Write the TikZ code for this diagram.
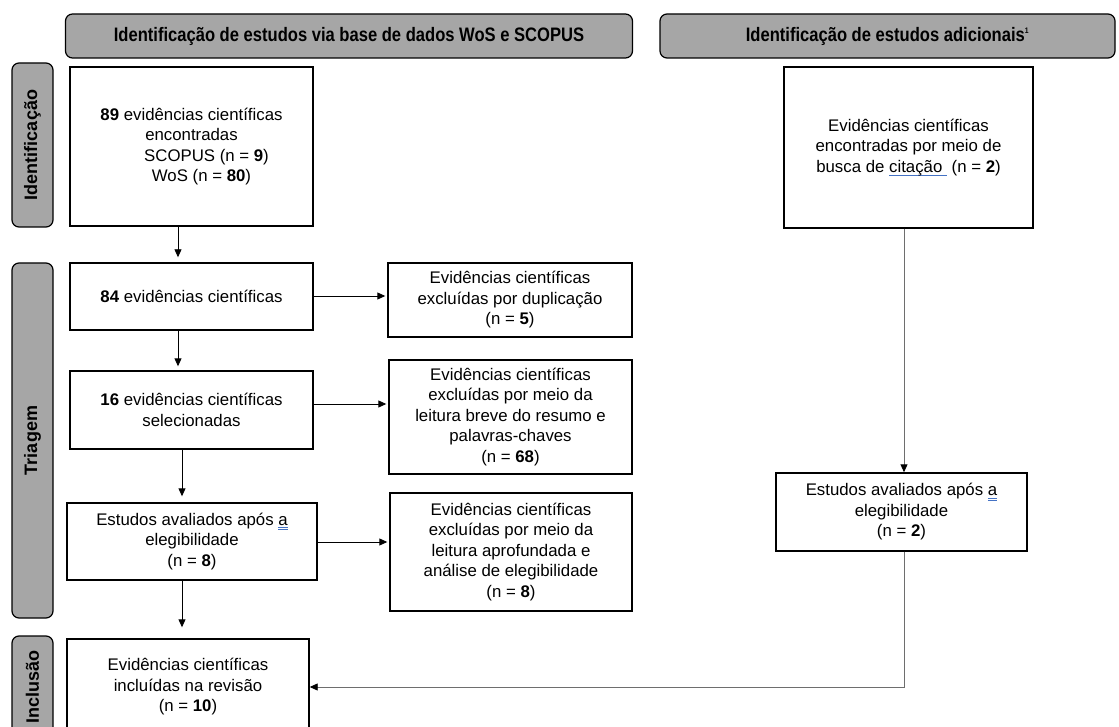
\documentclass[tikz,border=0pt]{standalone}
\usepackage{fontspec}
\setmainfont{Liberation Sans}
\newfontfamily\hdrfont[FakeStretch=0.85]{Liberation Sans}
\usetikzlibrary{arrows.meta,calc}

\definecolor{phasegray}{RGB}{166,166,166}
\definecolor{markblue}{RGB}{68,114,196}
\definecolor{linkgray}{RGB}{110,110,110}

% proofing underline (single) and double underline
\newcommand\spellline[1]{\setbox0\hbox{#1}\rlap{\color{markblue}\rule[-3pt]{\wd0}{0.8pt}}#1}
\newcommand\spelldouble[1]{\setbox0\hbox{#1}\rlap{\color{markblue}\rule[-2.6pt]{\wd0}{0.6pt}}\rlap{\color{markblue}\rule[-4.4pt]{\wd0}{0.6pt}}#1}

\tikzset{
  box/.style={draw=black, line width=1.4pt, fill=white, align=center,
    inner sep=2pt, font=\fontsize{16.8}{20.5}\selectfont},
  phase/.style={draw=black, line width=1.2pt, fill=phasegray, rounded corners=7pt},
  phaselabel/.style={rotate=90, font=\fontsize{18}{20}\selectfont\bfseries},
  header/.style={phase, font=\hdrfont\fontsize{19.5}{22}\selectfont\bfseries},
  arr/.style={-{Triangle[length=8pt,width=7pt,color=black]}, line width=0.9pt},
  grayarr/.style={arr, draw=linkgray},
}

\begin{document}
\begin{tikzpicture}[x=1pt,y=-1pt]
\useasboundingbox (0,0) rectangle (1119,727);

% column headers
\node[header, minimum width=567, minimum height=44] (hdrA) at (349,36)
  {Identificação de estudos via base de dados WoS e SCOPUS};
\node[header, minimum width=455, minimum height=44] (hdrB) at (887.5,36)
  {Identificação de estudos adicionais\textsuperscript{\fontsize{8}{8}\selectfont 1}};

% phase bars
\node[phase, minimum width=41, minimum height=164] (sideI) at (32.5,145) {};
\node[phaselabel] (labI) at (sideI) {Identificação};
\node[phase, minimum width=41, minimum height=355] (sideT) at (32.5,440.5) {};
\node[phaselabel] (labT) at (sideT) {Triagem};
\node[phase, minimum width=41, minimum height=102] (sideN) at (32.5,687) {};
\node[phaselabel] (labN) at (sideN) {Inclusão};

% main column
\node[box, minimum width=243, minimum height=159] (b1) at (191.5,146.5)
  {{\bfseries 89} evidências científicas\\ encontradas\\
   \hspace*{30pt}SCOPUS (n = {\bfseries 9})\\ \hspace*{20pt}WoS (n = {\bfseries 80})};
\node[box, minimum width=243, minimum height=67] (b2) at (191.5,296.5)
  {{\bfseries 84} evidências científicas};
\node[box, minimum width=243, minimum height=78] (b3) at (191.5,410)
  {{\bfseries 16} evidências científicas\\ selecionadas};
\node[box, minimum width=250, minimum height=77] (b4) at (192,541.5)
  {Estudos avaliados após \spelldouble{a}\\ elegibilidade\\ (n = {\bfseries 8})};
\node[box, minimum width=242, minimum height=96] (b5) at (188,687)
  {Evidências científicas\\ incluídas na revisão\\ (n = {\bfseries 10})};

% exclusion column
\node[box, minimum width=244, minimum height=74] (e1) at (510,300)
  {Evidências científicas\\ excluídas por duplicação\\ (n = {\bfseries 5})};
\node[box, minimum width=243, minimum height=114] (e2) at (510.5,417)
  {Evidências científicas\\ excluídas por meio da\\ leitura breve do resumo e\\ palavras-chaves\\ (n = {\bfseries 68})};
\node[box, minimum width=242, minimum height=118] (e3) at (511,552)
  {Evidências científicas\\ excluídas por meio da\\ leitura aprofundada e\\ análise de elegibilidade\\ (n = {\bfseries 8})};

% additional studies column
\node[box, minimum width=249, minimum height=161] (r1) at (908.5,147.5)
  {Evidências científicas\\ encontradas por meio de\\ busca de \spellline{citação\ }\ (n = {\bfseries 2})};
\node[box, minimum width=251, minimum height=78] (r2) at (901.5,512)
  {Estudos avaliados após \spelldouble{a}\\ elegibilidade\\ (n = {\bfseries 2})};

% connectors
\coordinate (ax1) at (178,0);
\coordinate (ax2) at (182,0);
\coordinate (rx) at (904,0);
\coordinate (ry) at (0,687);

\draw[arr, shorten >=5pt] (b1.south -| ax1) -- (b2.north -| ax1);
\draw[arr, shorten >=4pt] (b2.south -| ax1) -- (b3.north -| ax1);
\draw[arr, shorten >=6pt] (b3.south -| ax2) -- (b4.north -| ax2);
\draw[arr, shorten >=11pt] (b4.south -| ax2) -- (b5.north -| ax2);

\draw[arr, shorten >=2pt] (b2.east |- 0,296) -- (e1.west |- 0,296);
\draw[arr, shorten >=2pt] (b3.east |- 0,404) -- (e2.west |- 0,404);
\draw[arr, shorten >=2pt] (b4.east |- 0,542) -- (e3.west |- 0,542);

\draw[grayarr] (r1.south -| rx) -- (r2.north -| rx);
\draw[grayarr] (r2.south -| rx) -- (rx |- ry) -- (b5.east |- ry);
\end{tikzpicture}
\end{document}
